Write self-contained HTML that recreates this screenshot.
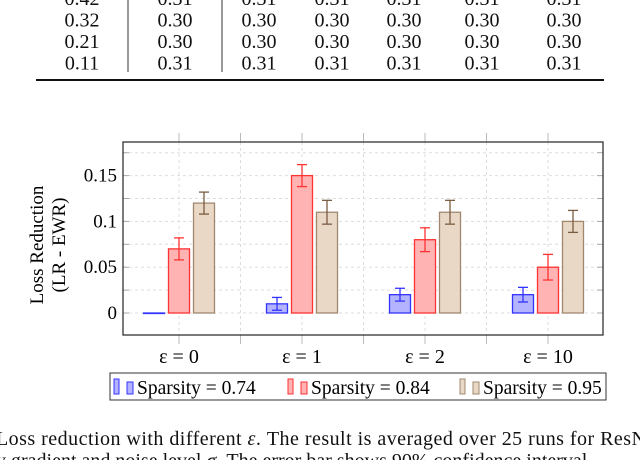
<!DOCTYPE html>
<html><head><meta charset="utf-8"><style>
body{margin:0;width:640px;height:460px;overflow:hidden;background:#fff;font-family:"Liberation Serif",serif;}
svg{display:block}
</style></head><body>
<svg width="640" height="460" id="fig" font-family="Liberation Serif, serif">
<g font-size="20" text-anchor="middle" fill="#111">
<g id="tbl"></g>
<line x1="128" y1="0" x2="128" y2="72" stroke="#333" stroke-width="1"/>
<line x1="222" y1="0" x2="222" y2="72" stroke="#333" stroke-width="1"/>
<line x1="36" y1="80" x2="604" y2="80" stroke="#111" stroke-width="2"/>
</g>
<g id="chart"></g>
<g font-size="20" fill="#111">
<text x="-4" y="445" textLength="650">Loss reduction with different <tspan font-style="italic">ε</tspan>.  The result is averaged over 25 runs for ResN</text>
<text x="-4" y="467">y gradient and noise level <tspan font-style="italic">σ</tspan>.  The error bar shows 90% confidence interval</text>
</g>
</svg>
<script>
const tableRows=[["0.42","0.31","0.31","0.31","0.31","0.31","0.31"],["0.32","0.30","0.30","0.30","0.30","0.30","0.30"],["0.21","0.30","0.30","0.30","0.30","0.30","0.30"],["0.11","0.31","0.31","0.31","0.31","0.31","0.31"]];
const categories=["ε = 0","ε = 1","ε = 2","ε = 10"];
const seriesNames=["Sparsity = 0.74","Sparsity = 0.84","Sparsity = 0.95"];
const s074=[0,0.01,0.02,0.02];
const s084=[0.07,0.15,0.08,0.05];
const s095=[0.12,0.11,0.11,0.10];
const e074=[0,0.007,0.007,0.008];
const e084=[0.012,0.012,0.013,0.014];
const e095=[0.012,0.013,0.013,0.012];
const yTicks=[0,0.05,0.1,0.15];
const yTickLabels=["0","0.05","0.1","0.15"];

const NS="http://www.w3.org/2000/svg";
function mk(p,tag,a){const e=document.createElementNS(NS,tag);for(const k in a)e.setAttribute(k,a[k]);p.appendChild(e);return e;}
const tbl=document.getElementById('tbl');
const colX=[82,175,259,332,404,482,564];
tableRows.forEach((r,i)=>{r.forEach((v,j)=>{const t=mk(tbl,'text',{x:colX[j],y:5+i*21.5});


t.textContent=v;});});
const g=document.getElementById('chart');
const L=123,R=603,T=142,B=335;
const y0=313,pxPer=45.8/0.05;
const Y=v=>y0-v*pxPer;
const X=i=>179+i*123;
const colors=[{s:"#3333ff",f:"#b3b3ff",e:"#3333ff"},{s:"#ff3333",f:"#ffb3b3",e:"#ff3333"},{s:"#a08870",f:"#ead8c6",e:"#7a5c40"}];
const vals=[s074,s084,s095],errs=[e074,e084,e095],off=[-25,0,25],bw=21;
for(let i=0;i<7;i++){const x=179+i*61.5;
const gl=mk(g,'line',{x1:x,y1:T,x2:x,y2:B,stroke:"#ddd","stroke-dasharray":"3,3"});


mk(g,'line',{x1:x,y1:T-9,x2:x,y2:T,stroke:"#bbb"});
mk(g,'line',{x1:x,y1:B,x2:x,y2:B+9,stroke:"#bbb"});}
for(let v=-0.025;v<=0.175;v+=0.025){const y=Y(v);if(y<T||y>B)continue;
const gl=mk(g,'line',{x1:L,y1:y,x2:R,y2:y,stroke:"#ddd","stroke-dasharray":"3,3"});


mk(g,'line',{x1:L,y1:y,x2:L+6,y2:y,stroke:"#aaa"});mk(g,'line',{x1:R-6,y1:y,x2:R,y2:y,stroke:"#aaa"});}
yTicks.forEach((v,i)=>{const t=mk(g,'text',{x:117,y:Y(v)+6,"text-anchor":"end","font-size":"19"});


t.textContent=yTickLabels[i];});
vals.forEach((arr,s)=>{arr.forEach((v,i)=>{const c=colors[s];const x=X(i)+off[s]-bw/2;
const r=mk(g,'rect',{x:x,y:Math.min(Y(v),y0),width:bw,height:Math.max(Math.abs(y0-Y(v)),0.5),fill:c.f,stroke:c.s,"stroke-width":1.3});


const e=errs[s][i];if(e>0){const cx=X(i)+off[s];const eg=mk(g,'g',{stroke:c.e,"stroke-width":1.3});


mk(eg,'line',{x1:cx,y1:Y(v+e),x2:cx,y2:Y(v-e)});
mk(eg,'line',{x1:cx-5,y1:Y(v+e),x2:cx+5,y2:Y(v+e)});
mk(eg,'line',{x1:cx-5,y1:Y(v-e),x2:cx+5,y2:Y(v-e)});}});});
const fr=mk(g,'rect',{x:L,y:T,width:R-L,height:B-T,fill:"none",stroke:"#333","stroke-width":1.3});


categories.forEach((c,i)=>{const t=mk(g,'text',{x:X(i),y:363,"text-anchor":"middle","font-size":"20"});


t.textContent=c;});
const yt=mk(g,'text',{transform:"translate(48,245) rotate(-90)","text-anchor":"middle","font-size":"19"});


const t1=mk(yt,'tspan',{x:0,dy:-5});t1.textContent="Loss Reduction";
const t2=mk(yt,'tspan',{x:0,dy:22});t2.textContent="(LR - EWR)";
const lg=mk(g,'g',{});


mk(lg,'rect',{x:110,y:373,width:496,height:27,fill:"#fff",stroke:"#333","stroke-width":1});
const lx=[114,288,460];
seriesNames.forEach((n,s)=>{const c=colors[s];const eg=mk(lg,'g',{});


mk(eg,'rect',{x:lx[s],y:379,width:5,height:15,fill:c.f,stroke:c.s});
mk(eg,'rect',{x:lx[s]+13,y:382,width:6,height:12,fill:c.f,stroke:c.s});
const t=mk(eg,'text',{x:lx[s]+23,y:394,"font-size":"19.5"});t.textContent=n;});
</script>
</body></html>
